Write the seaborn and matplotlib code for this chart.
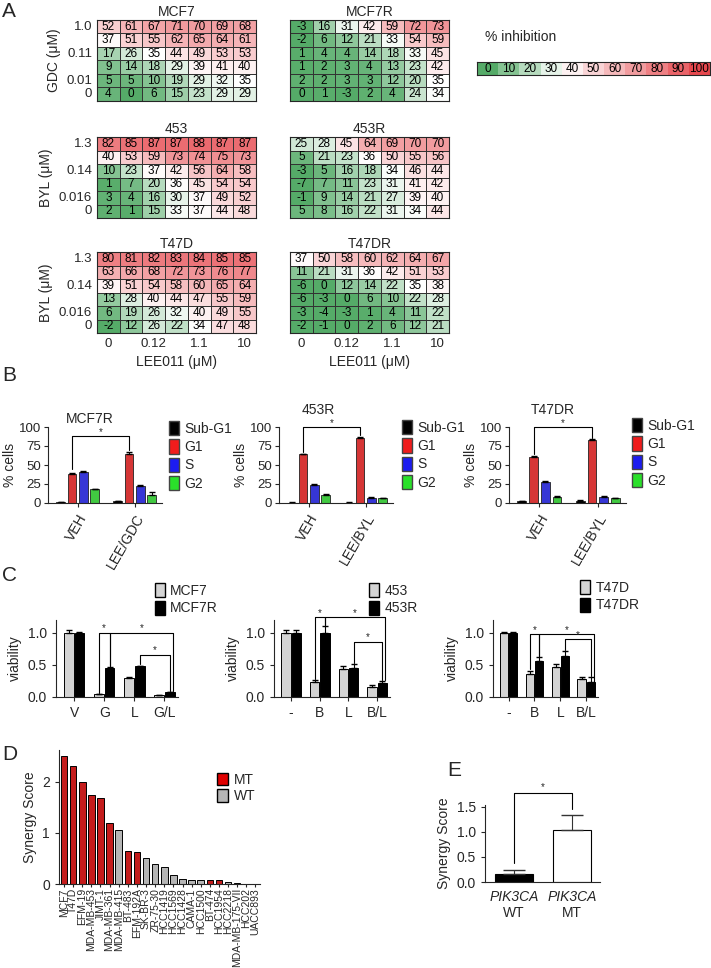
import matplotlib
matplotlib.use("Agg")
import matplotlib.pyplot as plt
import seaborn as sns
import pandas as pd
from matplotlib.colors import LinearSegmentedColormap
from matplotlib.patches import Patch
from matplotlib.container import BarContainer

sns.set_style("ticks")
plt.rcParams["font.family"] = ["Liberation Sans", "DejaVu Sans"]

# ---- panel A: % inhibition grids (rows top -> bottom) ----
mcf7 = [[52, 61, 67, 71, 70, 69, 68],
        [37, 51, 55, 62, 65, 64, 61],
        [17, 26, 35, 44, 49, 53, 53],
        [9, 14, 18, 29, 39, 41, 40],
        [5, 5, 10, 19, 29, 32, 35],
        [4, 0, 6, 15, 23, 29, 29]]
mcf7r = [[-3, 16, 31, 42, 59, 72, 73],
         [-2, 6, 12, 21, 33, 54, 59],
         [1, 4, 4, 14, 18, 33, 45],
         [1, 2, 3, 4, 13, 23, 42],
         [2, 2, 3, 3, 12, 20, 35],
         [0, 1, -3, 2, 4, 24, 34]]
mda453 = [[82, 85, 87, 87, 88, 87, 87],
          [40, 53, 59, 73, 74, 75, 73],
          [10, 23, 37, 42, 56, 64, 58],
          [1, 7, 20, 36, 45, 54, 54],
          [3, 4, 16, 30, 37, 49, 52],
          [2, 1, 15, 33, 37, 44, 48]]
mda453r = [[25, 28, 45, 64, 69, 70, 70],
           [5, 21, 23, 36, 50, 55, 56],
           [-3, 5, 16, 18, 34, 46, 44],
           [-7, 7, 11, 23, 31, 41, 42],
           [-1, 9, 14, 21, 27, 39, 40],
           [5, 8, 16, 22, 31, 34, 44]]
t47d = [[80, 81, 82, 83, 84, 85, 85],
        [63, 66, 68, 72, 73, 76, 77],
        [39, 51, 54, 58, 60, 65, 64],
        [13, 28, 40, 44, 47, 55, 59],
        [6, 19, 26, 32, 40, 49, 55],
        [-2, 12, 26, 22, 34, 47, 48]]
t47dr = [[37, 50, 58, 60, 62, 64, 67],
         [11, 21, 31, 36, 42, 51, 53],
         [-6, 0, 12, 14, 22, 35, 38],
         [-6, -3, 0, 6, 10, 22, 28],
         [-3, -4, -3, 1, 4, 11, 22],
         [-2, -1, 0, 2, 6, 12, 21]]
gdc_ticks = ["1.0", "0.11", "0.01", "0"]
byl_ticks = ["1.3", "0.14", "0.016", "0"]
lee_ticks = ["0", "0.12", "1.1", "10"]
scale_values = [0, 10, 20, 30, 40, 50, 60, 70, 80, 90, 100]

# ---- panel B: cell cycle (% cells) ----
phases = ["Sub-G1", "G1", "S", "G2"]
mcf7r_veh = [1, 38, 41, 18]
mcf7r_veh_err = [0.5, 1.5, 1, 1]
mcf7r_combo = [2, 65, 22, 11]
mcf7r_combo_err = [0.5, 2, 1.5, 3]
r453_veh = [0.5, 64, 24, 11]
r453_veh_err = [0.3, 1, 1, 0.8]
r453_combo = [0.5, 86, 7, 6]
r453_combo_err = [0.3, 1, 0.8, 0.8]
t47dr_veh = [2, 61, 28, 8]
t47dr_veh_err = [0.5, 1, 1, 0.8]
t47dr_combo = [3, 83, 8, 6]
t47dr_combo_err = [0.5, 1.5, 0.8, 0.8]

# ---- panel C: viability ----
c_mcf7_groups = ["V", "G", "L", "G/L"]
c_mcf7 = [1.0, 0.04, 0.30, 0.03]
c_mcf7_err = [0.04, 0.005, 0.01, 0.005]
c_mcf7r = [1.0, 0.45, 0.48, 0.08]
c_mcf7r_err = [0.02, 0.02, 0.01, 0.005]
c_453_groups = ["-", "B", "L", "B/L"]
c_453 = [1.0, 0.23, 0.44, 0.16]
c_453_err = [0.04, 0.03, 0.05, 0.02]
c_453r = [1.0, 1.0, 0.45, 0.22]
c_453r_err = [0.05, 0.1, 0.06, 0.03]
c_t47d_groups = ["-", "B", "L", "B/L"]
c_t47d = [1.0, 0.36, 0.46, 0.28]
c_t47d_err = [0.01, 0.05, 0.05, 0.03]
c_t47dr = [1.0, 0.56, 0.64, 0.24]
c_t47dr_err = [0.01, 0.06, 0.08, 0.07]

# ---- panel D: synergy score per line ----
d_lines = ["MCF7", "T47D", "EFM-19", "MDA-MB-453", "JIMT-1", "MDA-MB-361",
           "MDA-MB-415", "BT-483", "EFM-192A", "SK-BR-3", "ZR-75-30", "HCC1419",
           "HCC1569", "HCC1428", "CAMA-1", "HCC1500", "BT-474", "HCC1954",
           "HCC2218", "MDA-MB-175-VII", "HCC202", "UACC893"]
d_scores = [2.51, 2.30, 2.0, 1.74, 1.69, 1.19, 1.05, 0.64, 0.63, 0.50, 0.40, 0.33,
            0.18, 0.09, 0.08, 0.08, 0.08, 0.07, 0.04, 0.012, 0.006, 0.006]
d_status = ["MT", "MT", "MT", "MT", "MT", "MT", "WT", "MT", "MT", "WT", "WT", "WT",
            "WT", "WT", "WT", "WT", "MT", "MT", "WT", "WT", "WT", "WT"]

# ---- panel E ----
e_groups = ["WT", "MT"]
e_means = [0.16, 1.03]
e_err = [0.07, 0.31]

W, H = 711, 968
fig = plt.figure(figsize=(W / 100, H / 100), dpi=100)


def box(x0, y0, x1, y1):
    return fig.add_axes([x0 / W, 1 - y1 / H, (x1 - x0) / W, (y1 - y0) / H])


def letter(x, y, s):
    fig.text(x / W, 1 - y / H, s, fontsize=15, va="top", ha="left")


def bar_sets(ax):
    return [c for c in ax.containers if isinstance(c, BarContainer)]


cmap = LinearSegmentedColormap.from_list(
    "inhib", [(0.0, "#55ab68"), (0.35, "#ffffff"), (1.0, "#e6484e")])

# ---------------- A ----------------
letter(2, 2, "A")
grids = [
    (mcf7, "MCF7", 97, 20, gdc_ticks, "GDC (\u03bcM)", False),
    (mcf7r, "MCF7R", 290, 20, None, None, False),
    (mda453, "453", 97, 137, byl_ticks, "BYL (\u03bcM)", False),
    (mda453r, "453R", 290, 137, None, None, False),
    (t47d, "T47D", 97, 252, byl_ticks, "BYL (\u03bcM)", True),
    (t47dr, "T47DR", 290, 252, None, None, True),
]
for vals, title, x0, y0, yt, ylab, bottom in grids:
    ax = box(x0, y0, x0 + 159, y0 + 81)
    sns.heatmap(pd.DataFrame(vals), ax=ax, cmap=cmap, vmin=0, vmax=100,
                annot=True, fmt="d", cbar=False, linewidths=0.6, linecolor="#333333",
                annot_kws={"size": 8.5, "color": "black"})
    ax.set_title(title, fontsize=10, pad=3)
    ax.tick_params(length=0, labelsize=9.5)
    if yt:
        ax.set_yticks([0.5, 2.5, 4.5, 5.5])
        ax.set_yticklabels(yt, rotation=0)
        ax.set_ylabel(ylab, fontsize=10)
    else:
        ax.set_yticks([])
    if bottom:
        ax.set_xticks([0.5, 2.5, 4.5, 6.5])
        ax.set_xticklabels(lee_ticks, rotation=0)
        ax.set_xlabel("LEE011 (\u03bcM)", fontsize=10)
    else:
        ax.set_xticks([])
    for s in ax.spines.values():
        s.set_visible(True)
        s.set_linewidth(0.8)

fig.text(485 / W, 1 - 37 / H, "% inhibition", fontsize=10, va="center")
ax = box(477, 62, 710, 75)
sns.heatmap(pd.DataFrame([scale_values]), ax=ax, cmap=cmap, vmin=0, vmax=100,
            annot=True, fmt="d", cbar=False, linewidths=0,
            annot_kws={"size": 8.5, "color": "black"})
ax.set_xticks([])
ax.set_yticks([])
for s in ax.spines.values():
    s.set_visible(True)
    s.set_linewidth(0.8)

# ---------------- B ----------------
letter(2, 366, "B")
phase_colors = ["#000000", "#f01c1c", "#1c1cf0", "#2ae02a"]


def cycle_panel(x0, x1, veh, veh_err, combo, combo_err, combo_label,
                title, tx, ty, top, legs, lx, ly):
    ax = box(x0, 427, x1, 503)
    df = pd.DataFrame({"treat": ["VEH"] * 4 + [combo_label] * 4,
                       "phase": phases * 2, "pct": veh + combo})
    sns.barplot(df, x="treat", y="pct", hue="phase", hue_order=phases,
                palette=phase_colors, width=0.8, gap=0.25, edgecolor="#222222",
                linewidth=0.6, errorbar=None, legend=False, ax=ax)
    bars = bar_sets(ax)
    errs = [veh_err, combo_err]
    for i, cont in enumerate(bars):
        for j, bar in enumerate(cont):
            ax.errorbar(bar.get_x() + bar.get_width() / 2, bar.get_height(),
                        yerr=[[0], [errs[j][i]]], fmt="none", ecolor="black",
                        elinewidth=0.8, capsize=2)
    g1 = bars[1]
    xa = g1[0].get_x() + g1[0].get_width() / 2
    xb = g1[1].get_x() + g1[1].get_width() / 2
    ax.plot([xa, xa, xb, xb], [legs[0], top, top, legs[1]], color="black",
            lw=0.8, clip_on=False)
    ax.text((xa + xb) / 2, top - 1, "*", ha="center", va="bottom", fontsize=7)
    ax.set_ylim(0, 100)
    ax.set_yticks([0, 25, 50, 75, 100])
    ax.set_xlim(-0.52, 1.48)
    ax.set_xticks([0, 1])
    ax.set_xticklabels(["VEH", combo_label], rotation=60, ha="right",
                       rotation_mode="anchor", fontsize=10)
    ax.tick_params(axis="y", labelsize=9.5, length=3, pad=2)
    ax.tick_params(axis="x", length=3)
    ax.set_xlabel("")
    ax.set_ylabel("% cells", fontsize=10, labelpad=1)
    sns.despine(ax=ax)
    fig.text(tx / W, 1 - ty / H, title, fontsize=10, ha="center", va="center")
    handles = [Patch(facecolor=c, edgecolor="#444444", label=p)
               for p, c in zip(phases, phase_colors)]
    ax.legend(handles=handles, loc="upper left", bbox_to_anchor=(lx / W, 1 - ly / H),
              bbox_transform=fig.transFigure, frameon=False, fontsize=10,
              handlelength=0.7, handleheight=1.2, labelspacing=0.25,
              handletextpad=0.4, borderaxespad=0, borderpad=0)


cycle_panel(48, 162, mcf7r_veh, mcf7r_veh_err, mcf7r_combo, mcf7r_combo_err,
            "LEE/GDC", "MCF7R", 90, 419, 88, (45, 70), 169, 421)
cycle_panel(279, 393, r453_veh, r453_veh_err, r453_combo, r453_combo_err,
            "LEE/BYL", "453R", 318, 410, 100, (67, 89), 402, 420)
cycle_panel(509, 626, t47dr_veh, t47dr_veh_err, t47dr_combo, t47dr_combo_err,
            "LEE/BYL", "T47DR", 553, 410, 100, (64, 86), 632, 418)

# ---------------- C ----------------
letter(2, 566, "C")


def viability_panel(x0, x1, groups, par, par_err, res, res_err, names,
                    brackets, lx, ly):
    ax = box(x0, 620, x1, 697)
    df = pd.DataFrame({"grp": groups * 2,
                       "line": [names[0]] * 4 + [names[1]] * 4,
                       "via": par + res})
    sns.barplot(df, x="grp", y="via", hue="line", hue_order=names,
                palette=["#d4d4d4", "#000000"], width=0.72, gap=0.1,
                edgecolor="black", linewidth=0.7, errorbar=None, legend=False, ax=ax)
    bars = bar_sets(ax)
    errs = [par_err, res_err]
    for i, cont in enumerate(bars):
        for j, bar in enumerate(cont):
            ax.errorbar(bar.get_x() + bar.get_width() / 2, bar.get_height(),
                        yerr=[[0], [errs[i][j]]], fmt="none", ecolor="black",
                        elinewidth=0.8, capsize=2)

    def cx(h, j, shift=0.0):
        b = bars[h][j]
        return b.get_x() + b.get_width() / 2 + shift

    for (h1, j1, y1), (h2, j2, y2, sh), top in brackets:
        xa, xb = cx(h1, j1), cx(h2, j2, sh)
        ax.plot([xa, xa, xb, xb], [y1, top, top, y2], color="black", lw=0.8,
                clip_on=False)
        ax.text((xa + xb) / 2, top - 0.01, "*", ha="center", va="bottom", fontsize=7)
    ax.set_ylim(0, 1.2)
    ax.set_yticks([0, 0.5, 1.0])
    ax.set_yticklabels(["0.0", "0.5", "1.0"])
    ax.set_xlim(-0.6, 3.45)
    ax.tick_params(labelsize=10, length=3)
    ax.set_xlabel("")
    ax.set_ylabel("viability", fontsize=10)
    sns.despine(ax=ax)
    handles = [Patch(facecolor=c, edgecolor="black", label=n)
               for n, c in zip(names, ["#d4d4d4", "#000000"])]
    ax.legend(handles=handles, loc="upper left", bbox_to_anchor=(lx / W, 1 - ly / H),
              bbox_transform=fig.transFigure, frameon=False, fontsize=10,
              handlelength=0.7, handleheight=1.2, labelspacing=0.2,
              handletextpad=0.4, borderaxespad=0, borderpad=0)


viability_panel(56, 178, c_mcf7_groups, c_mcf7, c_mcf7_err, c_mcf7r, c_mcf7r_err,
                ["MCF7", "MCF7R"],
                [((0, 1, 0.06), (1, 1, 0.49, 0), 1.0),
                 ((1, 1, 0.49), (1, 3, 0.1, 0.12), 1.0),
                 ((1, 2, 0.51), (1, 3, 0.1, 0), 0.66)],
                155, 583)
viability_panel(274, 390, c_453_groups, c_453, c_453_err, c_453r, c_453r_err,
                ["453", "453R"],
                [((0, 1, 0.28), (1, 1, 1.12, 0), 1.24),
                 ((1, 1, 1.12), (1, 3, 0.27, 0.1), 1.24),
                 ((1, 2, 0.53), (1, 3, 0.27, 0), 0.86)],
                369, 583)
viability_panel(493, 598, c_t47d_groups, c_t47d, c_t47d_err, c_t47dr, c_t47dr_err,
                ["T47D", "T47DR"],
                [((0, 1, 0.43), (1, 1, 0.64, 0), 0.98),
                 ((1, 1, 0.64), (1, 3, 0.0, 0.12), 0.98),
                 ((1, 2, 0.74), (1, 3, 0.33, 0), 0.9)],
                580, 580)

# ---------------- D ----------------
letter(2, 745, "D")
ax = box(59, 750, 260, 884)
ddf = pd.DataFrame({"line": d_lines, "score": d_scores, "status": d_status})
sns.barplot(ddf, x="line", y="score", hue="status", hue_order=["MT", "WT"],
            palette={"MT": "#e00000", "WT": "#b5b5b5"}, dodge=False, width=0.72,
            edgecolor="black", linewidth=0.7, errorbar=None, legend=False, ax=ax)
ax.set_ylim(0, 2.62)
ax.set_yticks([0, 1, 2])
ax.set_xlim(-0.55, 21.5)
ax.tick_params(axis="x", labelrotation=90, labelsize=7.5, length=2, pad=1)
ax.tick_params(axis="y", labelsize=10, length=3)
ax.set_xlabel("")
ax.set_ylabel("Synergy Score", fontsize=10)
sns.despine(ax=ax)
ax.legend(handles=[Patch(facecolor="#e00000", edgecolor="black", label="MT"),
                   Patch(facecolor="#b5b5b5", edgecolor="black", label="WT")],
          loc="upper left", bbox_to_anchor=(217 / W, 1 - 773 / H),
          bbox_transform=fig.transFigure, frameon=False, fontsize=10,
          handlelength=0.8, handleheight=1.0, labelspacing=0.15,
          handletextpad=0.4, borderaxespad=0, borderpad=0)

# ---------------- E ----------------
letter(447, 761, "E")
ax = box(485, 805, 600, 882)
edf = pd.DataFrame({"grp": e_groups, "score": e_means})
sns.barplot(edf, x="grp", y="score", hue="grp", palette=["#000000", "#ffffff"],
            width=0.66, edgecolor="black", linewidth=0.8, errorbar=None,
            legend=False, ax=ax)
e_bars = [c[0] for c in bar_sets(ax)]
for bar, err in zip(e_bars, e_err):
    ax.errorbar(bar.get_x() + bar.get_width() / 2, bar.get_height(),
                yerr=[[0], [err]], fmt="none", ecolor="#333333", elinewidth=0.8,
                capsize=8)
ax.plot([0, 0, 1, 1], [0.38, 1.77, 1.77, 1.46], color="black", lw=0.8, clip_on=False)
ax.text(0.5, 1.78, "*", ha="center", va="bottom", fontsize=7)
ax.set_ylim(0, 1.53)
ax.set_yticks([0, 0.5, 1.0, 1.5])
ax.set_yticklabels(["0.0", "0.5", "1.0", "1.5"])
ax.set_xlim(-0.5, 1.48)
ax.set_xticks([0, 1])
ax.set_xticklabels(["", ""])
ax.tick_params(axis="x", length=0)
ax.tick_params(axis="y", labelsize=10, length=3)
for i, g in enumerate(e_groups):
    ax.text(i, -0.2, "PIK3CA", style="italic", fontsize=10, ha="center", va="center",
            transform=ax.get_xaxis_transform())
    ax.text(i, -0.4, g, fontsize=10, ha="center", va="center",
            transform=ax.get_xaxis_transform())
ax.set_xlabel("")
ax.set_ylabel("Synergy Score", fontsize=10)
sns.despine(ax=ax)

fig.savefig("out.png", dpi=100)
